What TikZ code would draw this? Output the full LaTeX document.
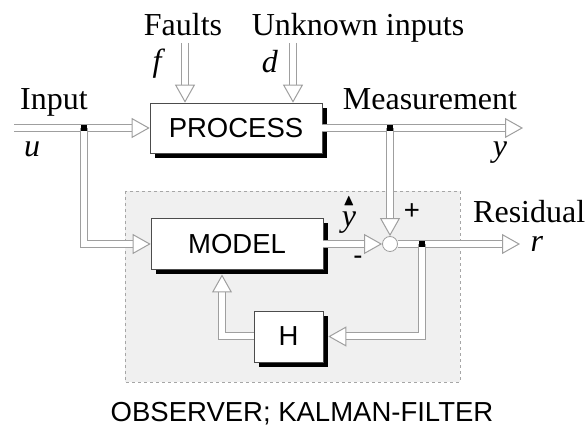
\documentclass[tikz,border=0pt]{standalone}
\usepackage{amsmath,amssymb}
\usepackage{fontspec}
\setmainfont{Liberation Serif}
\setsansfont{Liberation Sans}
\usetikzlibrary{arrows.meta,shadows}

\begin{document}
\begin{tikzpicture}[x=1pt,y=-1pt,
  pipe/.style={draw=gray!75,line width=1pt,double=white,double distance=6pt,shorten >=12pt,
    postaction={draw=white,line width=1pt,shorten >=0pt,
      -{Triangle[color=gray!75,open,fill=white,length=18pt,width=20pt,line width=1pt]}}},
  blk/.style={draw=gray!60!black,fill=white,line width=0.6pt,inner sep=0pt,
    font=\sffamily\fontsize{27.5}{32}\selectfont,
    drop shadow={shadow xshift=5pt,shadow yshift=-5pt,fill=black,opacity=1}},
  lbl/.style={font=\fontsize{32}{36}\selectfont,inner sep=0pt},
  sgn/.style={font=\sffamily\fontsize{27.5}{32}\selectfont,inner sep=0pt},
  dot/.style={fill=black,minimum size=6pt,inner sep=0pt}]
  \useasboundingbox (0,0) rectangle (587,430);
  % observer frame
  \draw[gray!70,dashed,fill=gray!12,line width=0.6pt] (125,191) rectangle (460,382);
  % blocks
  \node[blk,minimum width=172pt,minimum height=50pt] (proc) at (236,128) {PROCESS};
  \node[blk,minimum width=172pt,minimum height=51pt] (model) at (237,244) {MODEL};
  \node[blk,minimum width=69pt,minimum height=51pt] (H) at (288.5,336.5) {H};
  \node[circle,draw=gray!75,fill=white,line width=0.8pt,minimum size=15pt,inner sep=0pt] (sum) at (390,244) {};
  % points
  \coordinate (in) at (14,128);
  \coordinate (j1) at (84,128);
  \coordinate (j2) at (390,128);
  \coordinate (j3) at (422,244);
  \coordinate (ft) at (185,43);
  \coordinate (dt) at (293,43);
  \coordinate (out) at (523,128);
  \coordinate (res) at (520,244);
  \coordinate (fb) at (222,274.5);
  % signals
  \draw[pipe] (in) -- (proc.west);
  \draw[pipe] (j1) |- (model.west);
  \draw[pipe] (ft) -- (ft |- proc.north);
  \draw[pipe] (dt) -- (dt |- proc.north);
  \draw[pipe] (proc.east) -- (out);
  \draw[pipe] (j2) -- (sum.north);
  \draw[pipe] (model.east) -- (sum.west);
  \draw[pipe] (sum.east) -- (res);
  \draw[pipe] (j3) |- ([xshift=5pt]H.east);
  \draw[pipe] (H.west) -| (fb);
  \node[dot] (d1) at (j1) {};
  \node[dot] (d2) at (j2) {};
  \node[dot] (d3) at (j3) {};
  % labels
  \node[lbl,anchor=base] (lf) at (183,36) {Faults};
  \node[lbl,anchor=base] (lu) at (358,36) {Unknown inputs};
  \node[lbl,anchor=base] (lff) at (159,72) {\textit{f}};
  \node[lbl,anchor=base] (ldd) at (270,73) {\textit{d}};
  \node[lbl,anchor=base] (lin) at (54,110) {Input};
  \node[lbl,anchor=base] (luu) at (32,157) {\textit{u}};
  \node[lbl,anchor=base] (lm) at (430,110) {Measurement};
  \node[lbl,anchor=base] (lyy) at (500,157) {\textit{y}};
  \node[lbl,anchor=base west] (lr) at (473,223) {Residual};
  \node[lbl,anchor=base] (lrr) at (537,252) {\textit{r}};
  \node[lbl,anchor=base] (lyh) at (349,227) {$\overset{\scriptscriptstyle\blacktriangle}{\textit{y}}$};
  \node[sgn] (lp) at (412,212) {+};
  \node[sgn] (ln) at (358,260) {-};
  \node[sgn,anchor=base] (lobs) at (302,422) {OBSERVER; KALMAN-FILTER};
\end{tikzpicture}
\end{document}
